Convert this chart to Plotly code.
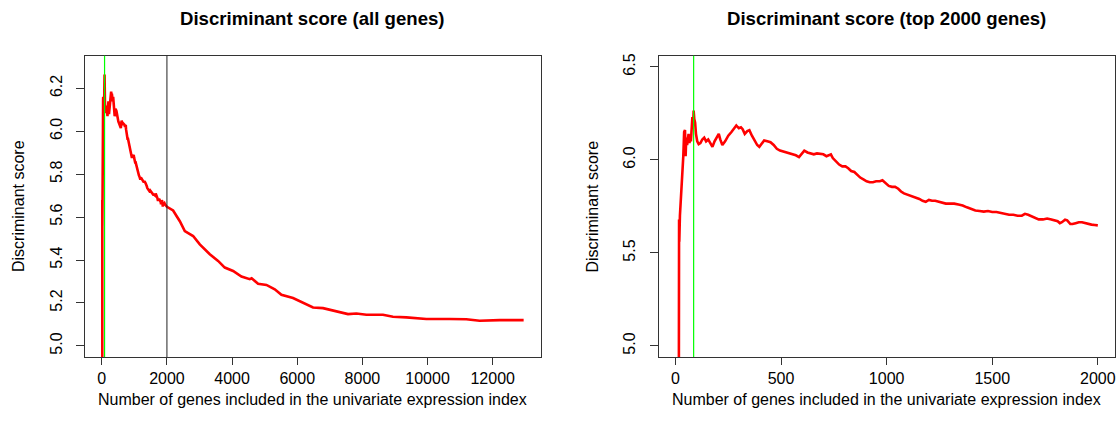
import plotly.graph_objects as go

# Number of genes included (x) and discriminant score (y)
genes = [1, 10, 16, 17, 18, 21, 25, 29, 33, 37, 41, 45, 48, 51, 55, 58, 62, 66, 70, 73,
         77, 80, 84, 86, 89, 93, 97, 103, 110, 118, 127, 136, 145, 155, 165, 175, 185, 195,
         205, 212, 222, 235, 250, 265, 280, 288, 300, 310, 318, 328, 340, 350, 362, 375, 387,
         397, 410, 420, 435, 450, 465, 480, 495, 510, 525, 540, 555, 570, 585, 598, 610, 625,
         640, 655, 670, 685, 700, 715, 728, 736, 745, 760, 775, 790, 805, 818, 832, 847, 860,
         875, 890, 905, 920, 935, 950, 968, 980, 995, 1010, 1025, 1040, 1055, 1068, 1082,
         1095, 1110, 1125, 1140, 1155, 1170, 1185, 1200, 1215, 1230, 1245, 1260, 1280, 1300,
         1320, 1340, 1360, 1380, 1400, 1420, 1440, 1460, 1480, 1500, 1520, 1540, 1560, 1580,
         1600, 1620, 1640, 1655, 1670, 1690, 1705, 1720, 1740, 1760, 1780, 1795, 1810, 1820,
         1830, 1845, 1855, 1870, 1880, 1895, 1910, 1925, 1940, 1955, 1970, 1985, 2000,
         2190, 2396, 2549, 2702, 2804, 3009, 3316, 3571, 3776, 4031, 4288, 4543, 4600, 4798,
         5055, 5310, 5515, 5871, 6178, 6485, 6791, 7098, 7304, 7558, 7816, 8123, 8632, 8939,
         9350, 9963, 10678, 11190, 11598, 12212, 12950]
scores = [4.20, 4.50, 4.80, 5.68, 5.56, 5.70, 5.78, 5.80, 5.95, 6.02, 6.15, 6.16, 6.02, 6.12,
          6.08, 6.13, 6.14, 6.09, 6.12, 6.10, 6.18, 6.23, 6.19, 6.265, 6.22, 6.20, 6.14, 6.10,
          6.085, 6.09, 6.11, 6.12, 6.10, 6.11, 6.09, 6.07, 6.10, 6.12, 6.14, 6.11, 6.08, 6.10,
          6.13, 6.15, 6.17, 6.185, 6.17, 6.175, 6.165, 6.14, 6.155, 6.16, 6.13, 6.10, 6.08,
          6.07, 6.09, 6.105, 6.10, 6.095, 6.08, 6.06, 6.05, 6.045, 6.04, 6.035, 6.03, 6.025,
          6.015, 6.035, 6.05, 6.04, 6.035, 6.03, 6.035, 6.033, 6.03, 6.02, 6.025, 6.03, 6.01,
          5.99, 5.975, 5.965, 5.965, 5.955, 5.94, 5.935, 5.92, 5.905, 5.895, 5.885, 5.88, 5.88,
          5.885, 5.885, 5.89, 5.875, 5.86, 5.855, 5.855, 5.845, 5.83, 5.82, 5.815, 5.81, 5.80,
          5.795, 5.79, 5.78, 5.775, 5.785, 5.78, 5.78, 5.775, 5.77, 5.765, 5.765, 5.765, 5.76,
          5.755, 5.745, 5.735, 5.728, 5.725, 5.722, 5.725, 5.72, 5.72, 5.715, 5.71, 5.705,
          5.705, 5.70, 5.70, 5.71, 5.705, 5.695, 5.69, 5.68, 5.68, 5.685, 5.68, 5.675, 5.67,
          5.66, 5.665, 5.678, 5.675, 5.655, 5.655, 5.66, 5.665, 5.665, 5.66, 5.655, 5.652,
          5.65, 5.648,
          5.631, 5.581, 5.535, 5.52, 5.512, 5.473, 5.427, 5.396, 5.365, 5.349, 5.323, 5.311,
          5.315, 5.29, 5.284, 5.264, 5.238, 5.223, 5.202, 5.179, 5.176, 5.164, 5.156, 5.148,
          5.151, 5.145, 5.145, 5.136, 5.133, 5.125, 5.125, 5.124, 5.117, 5.12, 5.12]

best_n = 86          # green line
top_cut = 2000       # black line / right panel limit

left_xticks = [0, 2000, 4000, 6000, 8000, 10000, 12000]
left_yticks = [5.0, 5.2, 5.4, 5.6, 5.8, 6.0, 6.2]
right_xticks = [0, 500, 1000, 1500, 2000]
right_yticks = [5.0, 5.5, 6.0, 6.5]

top_genes = [g for g in genes if g <= top_cut]
top_scores = scores[:len(top_genes)]

W, H = 1117, 434
FONT = "Liberation Sans, Arial, Helvetica, sans-serif"

fig = go.Figure()
fig.add_trace(go.Scatter(x=genes, y=scores, mode="lines", line=dict(color="red", width=2.6),
                         xaxis="x", yaxis="y", showlegend=False, hoverinfo="skip"))
fig.add_trace(go.Scatter(x=top_genes, y=top_scores, mode="lines", line=dict(color="red", width=2.6),
                         xaxis="x2", yaxis="y2", showlegend=False, hoverinfo="skip"))

dom_y = [1 - 356.7 / H, 1 - 54 / H]
ax_common = dict(showline=True, mirror=True, linecolor="#333", linewidth=1, ticks="outside",
                 tickcolor="#333", showgrid=False, zeroline=False,
                 tickfont=dict(family=FONT, size=16, color="black"))

lx0 = 1 - 0.04 * (12950 - 1)
lx1 = 12950 + 0.04 * (12950 - 1)
fig.update_layout(
    width=W, height=H, margin=dict(l=0, r=0, t=0, b=0),
    plot_bgcolor="white", paper_bgcolor="white",
    xaxis=dict(domain=[85 / W, 541 / W], range=[lx0, lx1], tickvals=left_xticks,
               ticktext=[str(v) for v in left_xticks], ticklen=7,
               ticklabelstandoff=0, anchor="y", **ax_common),
    yaxis=dict(domain=dom_y, range=[4.948, 6.352], tickvals=left_yticks,
               ticktext=[f"{v:.1f}" for v in left_yticks], tickangle=-90, ticklen=8,
               ticklabelstandoff=8, anchor="x", **ax_common),
    xaxis2=dict(domain=[659.4 / W, 1115.7 / W], range=[1 - 79.96, 2000 + 79.96],
                tickvals=right_xticks, ticktext=[str(v) for v in right_xticks], ticklen=7,
                ticklabelstandoff=0, anchor="y2", **ax_common),
    yaxis2=dict(domain=dom_y, range=[4.94, 6.56], tickvals=right_yticks,
                ticktext=[f"{v:.1f}" for v in right_yticks], tickangle=-90, ticklen=8,
                ticklabelstandoff=8, anchor="x2", **ax_common),
)

# vertical reference lines
fig.add_shape(type="line", xref="x", yref="y domain", x0=best_n, x1=best_n, y0=0, y1=1,
              line=dict(color="#00ff00", width=1.2))
fig.add_shape(type="line", xref="x", yref="y domain", x0=top_cut, x1=top_cut, y0=0, y1=1,
              line=dict(color="#222", width=1))
fig.add_shape(type="line", xref="x2", yref="y2 domain", x0=best_n, x1=best_n, y0=0, y1=1,
              line=dict(color="#00ff00", width=1.2))

def ann(text, x, y, size, bold=False, angle=0):
    fig.add_annotation(text=f"<b>{text}</b>" if bold else text, x=x / W, y=1 - y / H,
                       xref="paper", yref="paper", showarrow=False, textangle=angle,
                       xanchor="center", yanchor="middle",
                       font=dict(family=FONT, size=size, color="black"))

ann("Discriminant score (all genes)", 313, 17, 18.6, bold=True)
ann("Discriminant score (top 2000 genes)", 887.5, 17, 18.6, bold=True)
xlab = "Number of genes included in the univariate expression index"
ann(xlab, 313, 399, 16)
ann(xlab, 887.5, 399, 16)
ann("Discriminant score", 18, 205, 16, angle=-90)
ann("Discriminant score", 593, 205, 16, angle=-90)

fig.write_html("out.html")
